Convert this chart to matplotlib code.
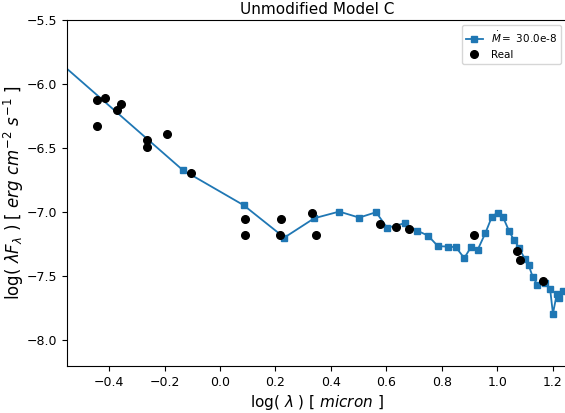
import matplotlib
matplotlib.use('Agg')
import matplotlib.pyplot as plt

# model SED (log lambda, log lambda F_lambda)
model_x = [-0.60, -0.135, 0.085, 0.232, 0.340, 0.430, 0.502, 0.563, 0.603, 0.666,
           0.710, 0.750, 0.786, 0.821, 0.851, 0.881, 0.906, 0.930, 0.957, 0.981,
           1.001, 1.020, 1.043, 1.060, 1.080, 1.099, 1.113, 1.128, 1.145, 1.173,
           1.191, 1.201, 1.215, 1.224, 1.236, 1.260]
model_y = [-5.79, -6.67, -6.945, -7.198, -7.047, -6.995, -7.042, -7.000, -7.122, -7.086,
           -7.143, -7.182, -7.265, -7.268, -7.273, -7.358, -7.270, -7.291, -7.164, -7.034,
           -7.005, -7.034, -7.148, -7.216, -7.280, -7.364, -7.410, -7.505, -7.565, -7.551,
           -7.603, -7.792, -7.636, -7.670, -7.615, -7.590]

# observed photometry
real_x = [-0.445, -0.414, -0.444, -0.357, -0.371, -0.262, -0.264, -0.192, -0.105,
          0.090, 0.090, 0.217, 0.219, 0.331, 0.345, 0.578, 0.636, 0.680,
          0.916, 1.071, 1.081, 1.166]
real_y = [-6.125, -6.112, -6.330, -6.157, -6.203, -6.437, -6.489, -6.388, -6.694,
          -7.052, -7.174, -7.177, -7.050, -7.003, -7.179, -7.091, -7.117, -7.133,
          -7.174, -7.301, -7.372, -7.536]

xticks = [-0.4, -0.2, 0.0, 0.2, 0.4, 0.6, 0.8, 1.0, 1.2]
yticks = [-8.0, -7.5, -7.0, -6.5, -6.0, -5.5]

fig = plt.figure(figsize=(5.65, 4.13), dpi=100)
ax = fig.add_axes([0.1186, 0.1138, 0.8841, 0.8378])

ax.plot(model_x, model_y, marker='s', ms=5, color='tab:blue', lw=1.3,
        label=r'$\dot{M}=$ 30.0e-8')
ax.plot(real_x, real_y, 'o', color='black', ms=5.5, label='Real')

ax.set_xlim(-0.552, 1.25)
ax.set_ylim(-8.2, -5.5)
ax.set_xticks(xticks)
ax.set_yticks(yticks)
ax.set_title('Unmodified Model C', fontsize=11, pad=4)
ax.set_xlabel(r'log( $\lambda$ ) [ $micron$ ]', fontsize=11, labelpad=3)
ax.set_ylabel(r'log( $\lambda F_\lambda$ ) [ $erg\ cm^{-2}\ s^{-1}$ ]', fontsize=12)
ax.yaxis.set_label_coords(-0.082, 0.5)
ax.tick_params(labelsize=9)
ax.legend(loc='upper right', fontsize=7.5, handlelength=1.6)

fig.savefig('out.png', dpi=100)
